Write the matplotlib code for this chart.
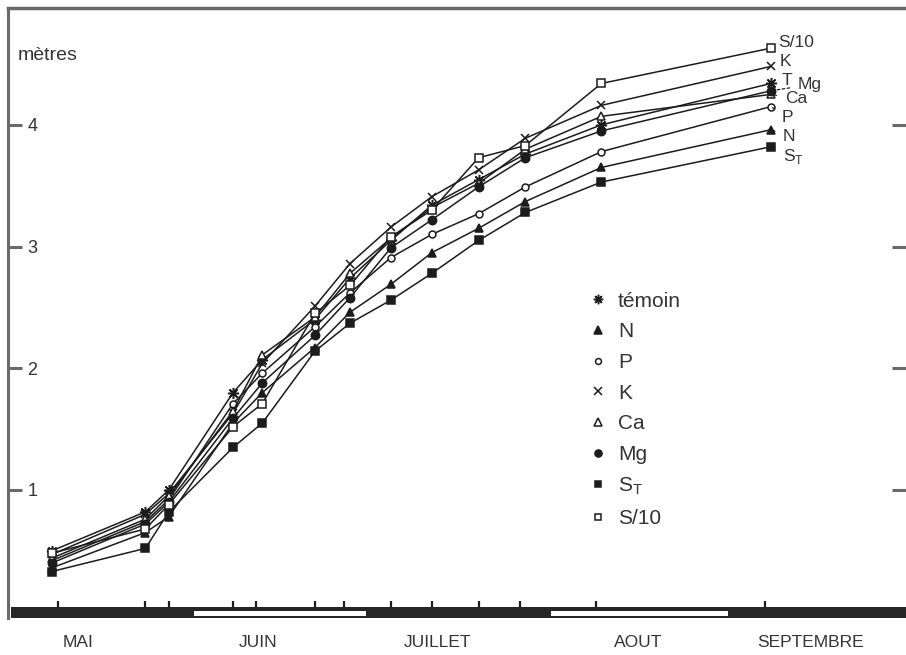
import numpy as np
import matplotlib.pyplot as plt
from matplotlib.lines import Line2D
import matplotlib.transforms as mtransforms

plt.rcParams['font.family'] = ['Liberation Sans', 'DejaVu Sans']

# === Donnees (jours comptes depuis le 1er mai) ===
jours = [7, 23, 27, 38, 43, 52, 58, 65, 72, 80, 88, 101, 130]
graduations = [8, 23, 27, 38, 42, 52, 57, 65, 72, 80, 87, 100, 129]

temoin = [0.50, 0.82, 1.00, 1.80, 2.07, 2.40, 2.74, 3.05, 3.34, 3.55, 3.76, 4.00, 4.34]
azote = [0.36, 0.65, 0.78, 1.55, 1.80, 2.17, 2.46, 2.69, 2.95, 3.15, 3.37, 3.65, 3.96]
phosphore = [0.42, 0.74, 0.92, 1.71, 1.96, 2.34, 2.62, 2.91, 3.10, 3.27, 3.49, 3.78, 4.15]
potassium = [0.47, 0.80, 0.97, 1.63, 2.04, 2.51, 2.86, 3.16, 3.41, 3.63, 3.89, 4.16, 4.48]
calcium = [0.44, 0.76, 0.95, 1.65, 2.11, 2.42, 2.78, 3.07, 3.32, 3.52, 3.80, 4.07, 4.25]
magnesium = [0.40, 0.72, 0.90, 1.59, 1.88, 2.27, 2.58, 2.99, 3.22, 3.49, 3.73, 3.95, 4.28]
soufre_t = [0.33, 0.52, 0.82, 1.35, 1.55, 2.14, 2.37, 2.56, 2.78, 3.05, 3.28, 3.53, 3.82]
soufre_10 = [0.48, 0.68, 0.88, 1.52, 1.71, 2.45, 2.68, 3.08, 3.30, 3.73, 3.83, 4.34, 4.63]

mois = ['MAI', 'JUIN', 'JUILLET', 'AOUT', 'SEPTEMBRE']
debut_mois = [0, 31, 61, 92, 123, 160]
pos_noms_mois = [11.5, 42.3, 72.9, 107.3, 136.8]

noir = '#1c1c1c'
gris = '#6a6a6a'
texte = '#333333'

# (valeurs, marqueur, remplissage, taille, legende, etiquette fin, decalage, tiret)
series = [
    (temoin, (8, 2, 0), noir, 8, 'témoin', 'T', (8, 2), False),
    (azote, '^', noir, 6, 'N', 'N', (8.6, -5), True),
    (phosphore, 'o', 'white', 5, 'P', 'P', (8, -8), True),
    (potassium, 'x', noir, 6, 'K', 'K', (6.5, 3.6), False),
    (calcium, '^', 'white', 6, 'Ca', 'Ca', (10, -3), True),
    (magnesium, 'o', noir, 6, 'Mg', 'Mg', (19.4, 4.3), True),
    (soufre_t, 's', noir, 5.5, r'S$_\mathregular{T}$', r'S$_\mathregular{T}$', (8.6, -7), True),
    (soufre_10, 's', 'white', 5.5, 'S/10', 'S/10', (5, 4.3), False),
]

# === Figure ===
fig = plt.figure(figsize=(9.06, 6.55), dpi=100)
ax = fig.add_axes([8 / 906, 37 / 655, 898 / 906, 610 / 655])
ax.set_xlim(-0.5, 153.1)
ax.set_ylim(-0.052, 4.96)

handles = []
labels = []
for vals, mk, fc, ms, lab, fin, dec, tiret in series:
    ax.plot(jours, vals, color=noir, lw=1.1, marker=mk, ms=ms,
            mfc=fc, mec=noir, mew=1.1, zorder=2)
    handles.append(Line2D([], [], ls='none', marker=mk, ms=ms * 0.85,
                          mfc=fc, mec=noir, mew=1.1))
    labels.append(lab)
    arrow = None
    if tiret:
        arrow = dict(arrowstyle='-', color=noir, lw=0.9, ls=(0, (2, 2)),
                     shrinkA=4, shrinkB=1)
    ax.annotate(fin, xy=(jours[-1], vals[-1]), xytext=dec,
                textcoords='offset points', fontsize=12.5, color=texte,
                ha='left', va='center', arrowprops=arrow)

ax.legend(handles, labels, loc='upper left', bbox_to_anchor=(0.6454, 0.535),
          frameon=False, fontsize=15, labelspacing=0.56, handlelength=1.0,
          handletextpad=0.45, borderpad=0, borderaxespad=0, labelcolor=texte)

# === Axes ===
for cote in ['bottom', 'right']:
    ax.spines[cote].set_visible(False)
ax.spines['left'].set_color(gris)
ax.spines['left'].set_linewidth(2.2)
ax.spines['top'].set_color(gris)
ax.spines['top'].set_linewidth(2.5)

ax.set_yticks([1, 2, 3, 4])
ax.tick_params(axis='y', direction='in', length=10, width=2.2, color=gris,
               pad=-14, labelsize=13, labelcolor=texte, right=True)
for t in ax.get_yticklabels():
    t.set_horizontalalignment('left')

ax.set_xticks(graduations)
ax.set_xticklabels([])
ax.tick_params(axis='x', direction='in', length=12, width=1.6, color=noir)

ax.set_xticks(pos_noms_mois, minor=True)
ax.set_xticklabels(mois, minor=True)
ax.tick_params(axis='x', which='minor', length=0, pad=12, labelsize=12.5,
               labelcolor=texte)

# bande des mois
trans = mtransforms.blended_transform_factory(ax.transData, ax.transAxes)
for i in range(len(mois)):
    x0 = debut_mois[i]
    x1 = debut_mois[i + 1]
    ax.add_patch(plt.Rectangle((x0, 0), x1 - x0, 11 / 610, transform=trans,
                               color='#262626', lw=0, zorder=3, clip_on=False))
    if i % 2 == 1:
        ax.add_patch(plt.Rectangle((x0 + 0.3, 1.8 / 610), x1 - x0 - 0.6, 5 / 610,
                                   transform=trans, color='white', lw=0,
                                   zorder=4, clip_on=False))

ax.text(10 / 898, (618 - 55) / 610, 'mètres', transform=ax.transAxes,
        fontsize=14, color=texte, ha='left', va='center')

fig.savefig('out.png', dpi=100)
